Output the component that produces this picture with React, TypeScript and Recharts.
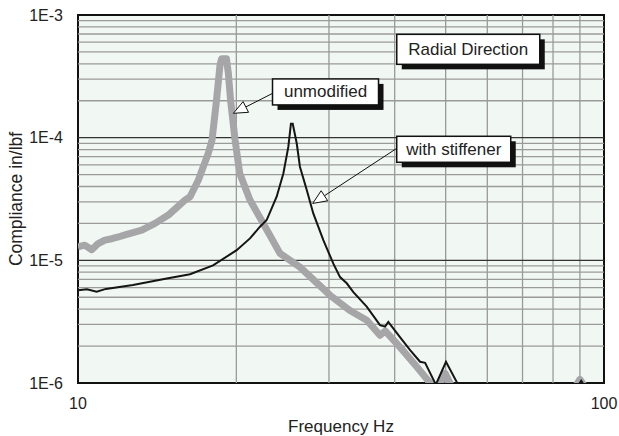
import React from 'react'
import { LineChart, Line, XAxis, YAxis, CartesianGrid, ReferenceLine, ReferenceArea, ReferenceDot } from 'recharts'

// Frequency (Hz) / compliance (in/lbf), log-log axes.
const unmodifiedFreq = [
  10, 10.3, 10.62, 10.9, 11.25, 11.6, 11.93, 12.29, 13.22, 14.01, 14.85, 15.97, 16.33, 16.93, 17.69, 17.98, 18.34,
  18.62, 18.75, 19.15, 19.31, 19.5, 19.89, 20.3, 21.23, 22.5, 24.21, 26.42, 30.13, 32.88, 35.4, 37.5, 38.4, 40.9, 44.1,
  46.7, 48.0, 49.9, 51.9, 70, 87.7, 90, 92.5, 100,
]
const unmodifiedCompliance = [
  1.29e-5, 1.33e-5, 1.22e-5, 1.36e-5, 1.46e-5, 1.5e-5, 1.55e-5, 1.61e-5, 1.76e-5, 2.0e-5, 2.34e-5, 3.1e-5, 3.3e-5,
  4.5e-5, 7.45e-5, 9.55e-5, 2.03e-4, 3.9e-4, 4.4e-4, 4.4e-4, 3.37e-4, 2.03e-4, 9.55e-5, 5.1e-5, 3.1e-5, 2.0e-5, 1.14e-5,
  8.8e-6, 5.2e-6, 3.9e-6, 3.25e-6, 2.45e-6, 2.65e-6, 1.97e-6, 1.35e-6, 1.0e-6, 0.85e-6, 1.2e-6, 0.85e-6, 0.7e-6, 0.9e-6,
  1.07e-6, 0.9e-6, 0.8e-6,
]

const stiffenerFreq = [
  10, 10.4, 10.85, 11.3, 12.72, 14.75, 16.33, 18.06, 20.03, 21.23, 22.18, 22.84, 23.86, 24.57, 25.11, 25.4, 25.6, 26.05,
  26.42, 27.22, 28.01, 29.27, 30.58, 31.49, 32.43, 33.38, 35.39, 37.51, 38.35, 38.9, 40.9, 42.8, 44.7, 45.7, 47.9,
  50.07, 52.8, 56, 88.5, 90.5, 92.5, 100,
]
const stiffenerCompliance = [
  5.7e-6, 5.8e-6, 5.55e-6, 5.85e-6, 6.3e-6, 7.1e-6, 7.7e-6, 9.1e-6, 1.21e-5, 1.51e-5, 1.88e-5, 2.13e-5, 3.3e-5, 5.1e-5,
  8.4e-5, 1.3e-4, 1.3e-4, 9.0e-5, 5.8e-5, 3.74e-5, 2.41e-5, 1.46e-5, 9.4e-6, 7.3e-6, 6.5e-6, 5.5e-6, 4.2e-6, 2.96e-6,
  2.88e-6, 3.15e-6, 2.38e-6, 1.85e-6, 1.49e-6, 1.46e-6, 0.97e-6, 1.49e-6, 0.97e-6, 0.8e-6, 0.9e-6, 1.04e-6, 0.9e-6,
  0.8e-6,
]

const freqTicks = [10, 100]
const complianceTicks = [1e-6, 1e-5, 1e-4, 1e-3]
const freqGrid = [20, 30, 40, 50, 60, 70, 80, 90]
const complianceMajorGrid = [1e-5, 1e-4]
const complianceMinorGrid = [
  2e-6, 3e-6, 4e-6, 5e-6, 6e-6, 7e-6, 8e-6, 9e-6,
  2e-5, 3e-5, 4e-5, 5e-5, 6e-5, 7e-5, 8e-5, 9e-5,
  2e-4, 3e-4, 4e-4, 5e-4, 6e-4, 7e-4, 8e-4, 9e-4,
]

// callouts: anchor (box centre) in data units, plus arrow from/to
const callouts = [
  { text: 'Radial Direction', f: 55.2, c: 5.25e-4, w: 143, h: 30 },
  { text: 'unmodified', f: 29.55, c: 2.36e-4, w: 106, h: 26 },
  { text: 'with stiffener', f: 51.8, c: 8.04e-5, w: 114, h: 26 },
]
const arrows = [
  { from: { x: 23.45, y: 2.3e-4 }, to: { x: 19.74, y: 1.58e-4 } },
  { from: { x: 40.36, y: 8.18e-5 }, to: { x: 27.94, y: 2.91e-5 } },
]

const zip = (fs: number[], cs: number[]) => fs.map((f, i) => ({ f, c: cs[i] }))
const unmodified = zip(unmodifiedFreq, unmodifiedCompliance)
const stiffener = zip(stiffenerFreq, stiffenerCompliance)

const FONT = '"Liberation Sans", Arial, sans-serif'

const CalloutBox = ({ cx, cy, text, w, h }: any) => (
  <g>
    <rect x={cx - w / 2 + 5} y={cy - h / 2 + 5} width={w} height={h} fill="#111" />
    <rect x={cx - w / 2} y={cy - h / 2} width={w} height={h} fill="#fff" stroke="#111" strokeWidth={1.5} />
    <text x={cx} y={cy} textAnchor="middle" dominantBaseline="central" fontSize={17} fill="#222" fontFamily={FONT}>
      {text}
    </text>
  </g>
)

const Arrow = ({ x1, y1, x2, y2 }: any) => {
  const len = Math.hypot(x2 - x1, y2 - y1) || 1
  const dx = (x2 - x1) / len
  const dy = (y2 - y1) / len
  const bx = x2 - dx * 14
  const by = y2 - dy * 14
  const nx = -dy * 6
  const ny = dx * 6
  return (
    <g>
      <line x1={x1} y1={y1} x2={bx} y2={by} stroke="#111" strokeWidth={1} />
      <polygon points={`${x2},${y2} ${bx + nx},${by + ny} ${bx - nx},${by - ny}`} fill="#fff" stroke="#111" strokeWidth={1} />
    </g>
  )
}

const YTitle = ({ viewBox }: any) => {
  const cy = viewBox.y + viewBox.height / 2
  return (
    <text
      x={21.5}
      y={cy}
      transform={`rotate(-90 21.5 ${cy})`}
      textAnchor="middle"
      fontSize={17.5}
      fill="#222"
      fontFamily={FONT}
    >
      Compliance in/lbf
    </text>
  )
}

export default function App() {
  return (
    <div style={{ fontFamily: FONT }}>
      <style>{'body{margin:0}'}</style>
      <LineChart width={619} height={436} margin={{ top: 15, right: 15, bottom: 0, left: 0 }}>
        <CartesianGrid horizontal={false} vertical={false} fill="#f1f7f3" />
        <XAxis
          type="number"
          dataKey="f"
          scale="log"
          domain={[10, 100]}
          ticks={freqTicks}
          allowDataOverflow
          height={53}
          axisLine={false}
          tickLine={false}
          tickSize={0}
          tickMargin={15}
          tick={{ fontSize: 16, fill: '#222' }}
          label={{ value: 'Frequency Hz', position: 'insideBottom', offset: 4, fontSize: 17, fill: '#222' }}
        />
        <YAxis
          type="number"
          dataKey="c"
          scale="log"
          domain={[1e-6, 1e-3]}
          ticks={complianceTicks}
          allowDataOverflow
          width={78}
          axisLine={false}
          tickLine={false}
          tickSize={0}
          tickMargin={15}
          tick={{ fontSize: 16, fill: '#222' }}
          tickFormatter={(v: number) => v.toExponential(0).toUpperCase().replace('+', '')}
          label={{ content: (p: any) => <YTitle {...p} /> }}
        />
        {complianceMinorGrid.map(v => (
          <ReferenceLine key={`h${v}`} y={v} stroke="#9a9a9a" strokeWidth={1.3} />
        ))}
        {freqGrid.map(v => (
          <ReferenceLine key={`v${v}`} x={v} stroke="#9a9a9a" strokeWidth={1.3} />
        ))}
        {complianceMajorGrid.map(v => (
          <ReferenceLine key={`m${v}`} y={v} stroke="#333" strokeWidth={1.2} />
        ))}
        <Line
          data={unmodified}
          dataKey="c"
          stroke="#a6a6a8"
          strokeWidth={7}
          strokeLinejoin="round"
          dot={false}
          isAnimationActive={false}
        />
        <Line
          data={stiffener}
          dataKey="c"
          stroke="#151515"
          strokeWidth={2}
          dot={false}
          isAnimationActive={false}
        />
        <ReferenceArea x1={10} x2={100} y1={1e-6} y2={1e-3} fill="none" fillOpacity={0} stroke="#111" strokeWidth={2} />
        {arrows.map((a, i) => (
          <ReferenceLine key={`a${i}`} segment={[a.from, a.to]} shape={(p: any) => <Arrow {...p} />} />
        ))}
        {callouts.map(c => (
          <ReferenceDot
            key={c.text}
            x={c.f}
            y={c.c}
            shape={(p: any) => <CalloutBox cx={p.cx} cy={p.cy} text={c.text} w={c.w} h={c.h} />}
          />
        ))}
      </LineChart>
    </div>
  )
}
